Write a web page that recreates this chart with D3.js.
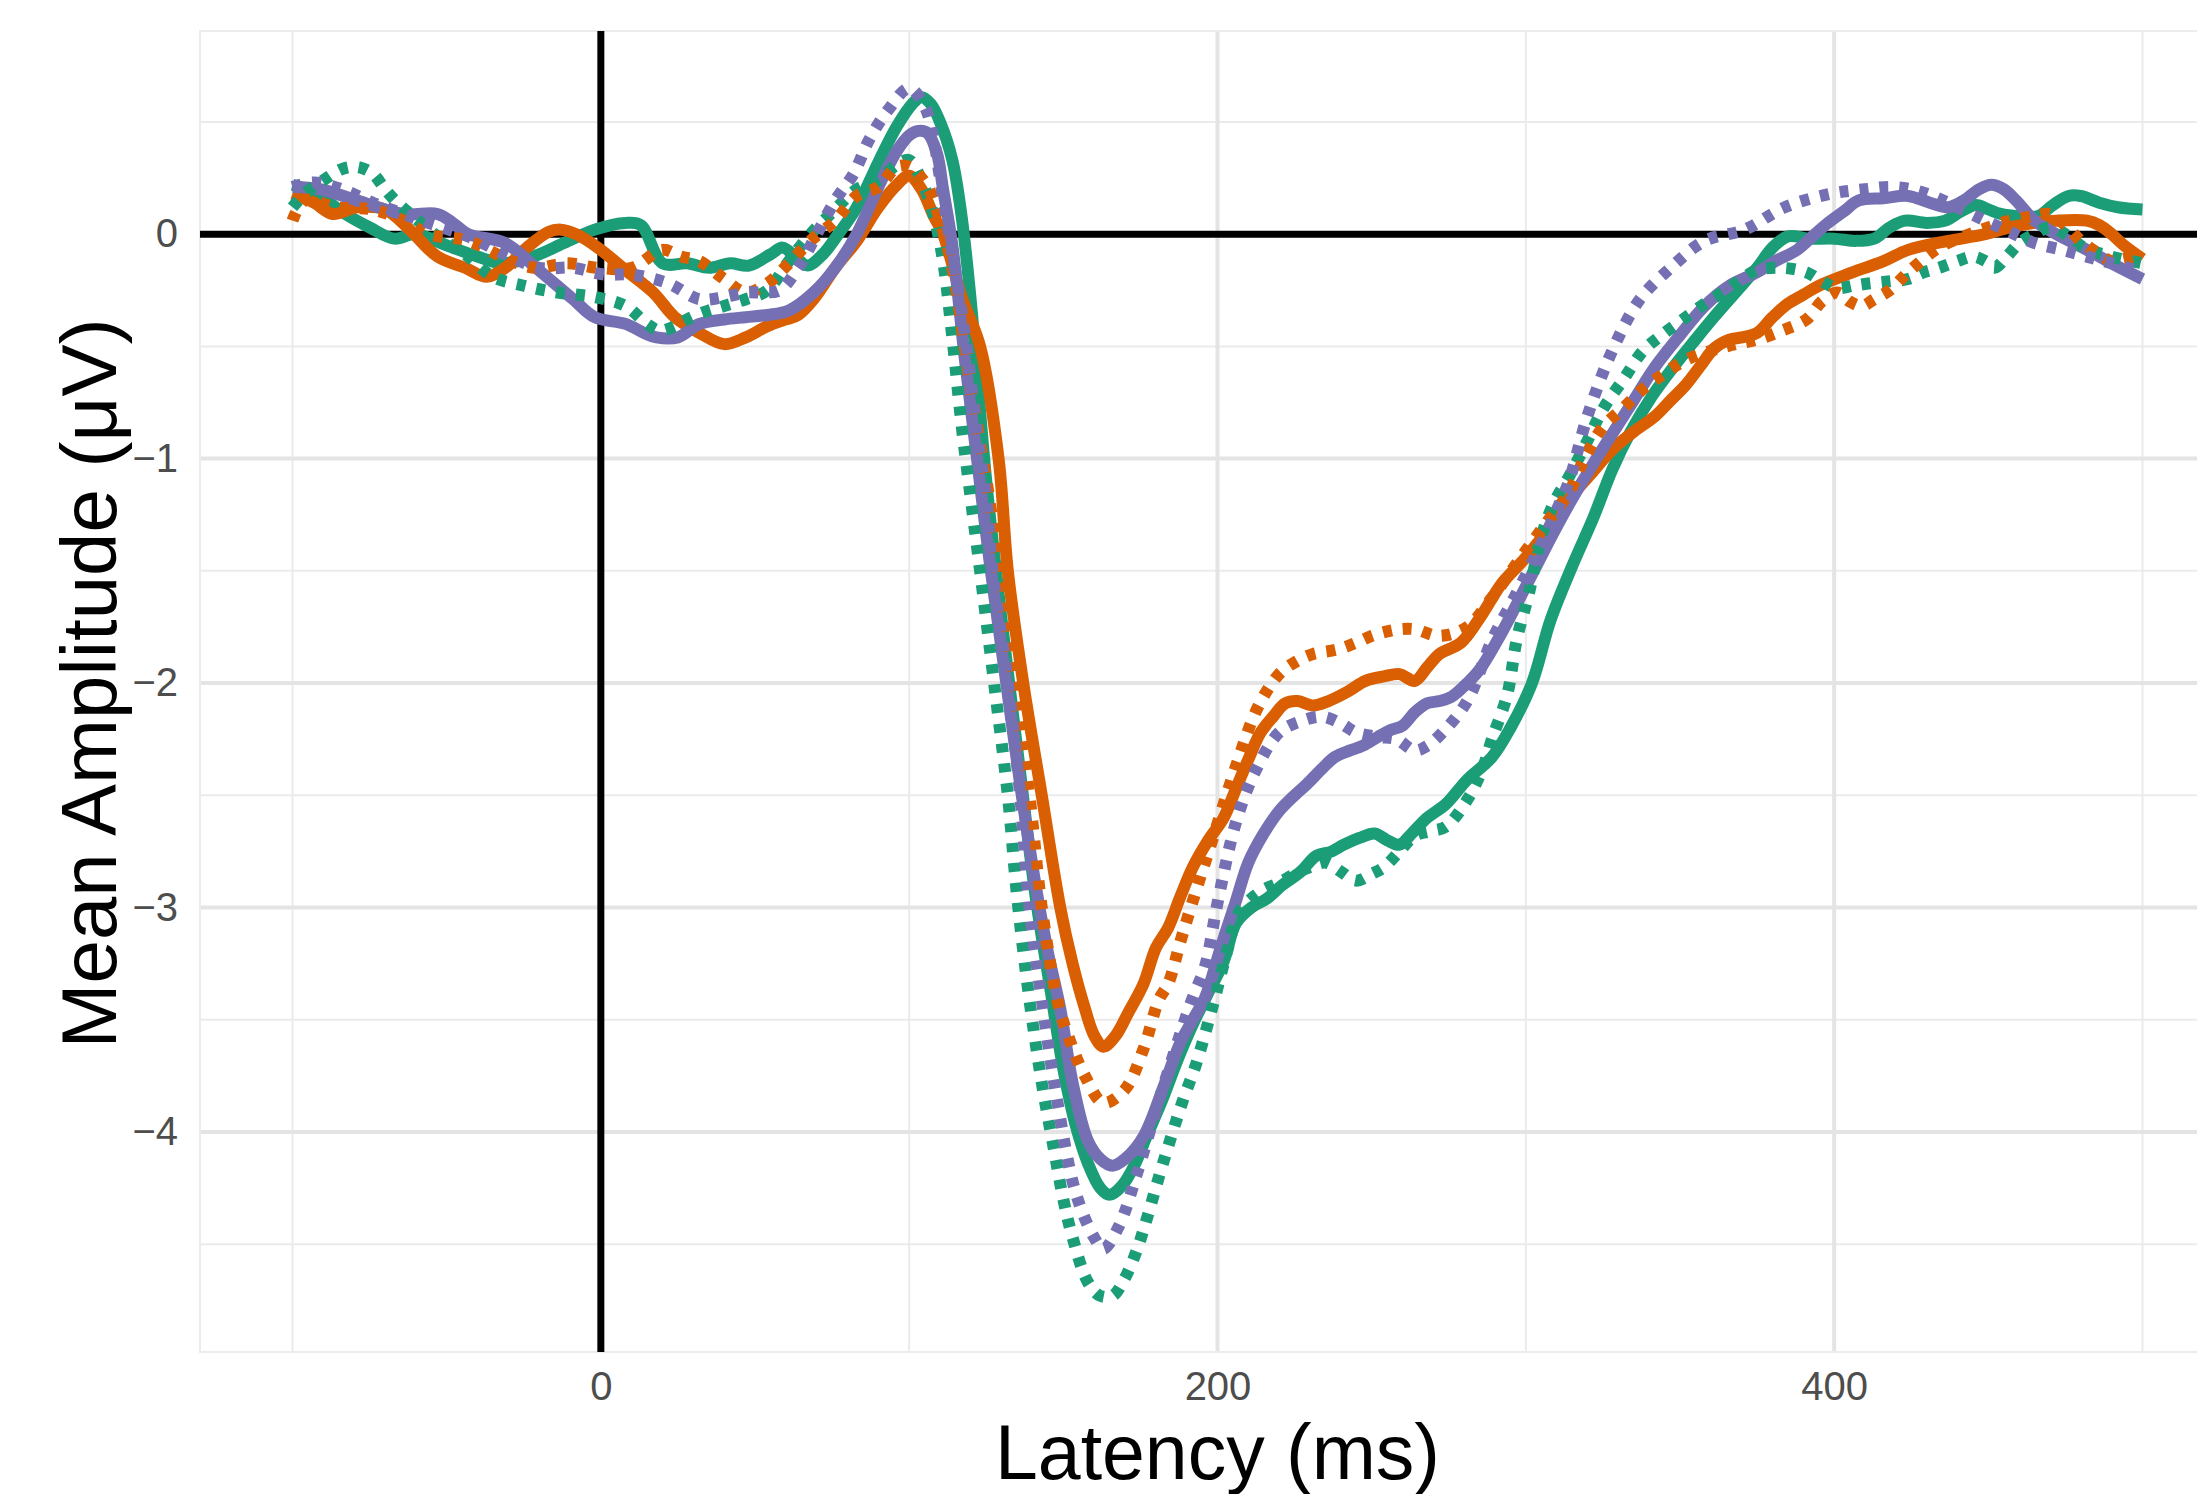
<!DOCTYPE html>
<html>
<head>
<meta charset="utf-8">
<script src="https://cdn.jsdelivr.net/npm/d3@7/dist/d3.min.js"></script>
<style>
  body { margin: 0; background: #fff; }
  svg { display: block; font-family: "Liberation Sans", Arial, sans-serif; }
</style>
</head>
<body>
<script>
// ERP waveforms, [latency ms, amplitude uV]
var greenSolid = [[-100,0.22],[-92,0.18],[-84,0.10],[-75,0.03],[-67,-0.02],[-60,0.00],[-50,-0.05],[-40,-0.10],[-32,-0.13],[-22,-0.10],[-12,-0.04],[-2,0.02],[8,0.05],[13,0.04],[20,-0.13],[28,-0.13],[35,-0.15],[42,-0.13],[48,-0.14],[55,-0.09],[59,-0.06],[63,-0.10],[67,-0.14],[72,-0.09],[77,0.00],[83,0.12],[90,0.32],[96,0.48],[101,0.58],[104,0.61],[107,0.58],[110,0.50],[114,0.33],[117,0.08],[120,-0.30],[125,-1.10],[130,-1.72],[136,-2.40],[141,-2.95],[146,-3.38],[150,-3.72],[154,-3.97],[158,-4.14],[162,-4.25],[165,-4.28],[169,-4.24],[173,-4.15],[177,-4.02],[182,-3.86],[187,-3.68],[192,-3.52],[197,-3.38],[202,-3.24],[206,-3.07],[211,-3.00],[216,-2.96],[221,-2.90],[227,-2.84],[232,-2.77],[237,-2.75],[241,-2.72],[246,-2.69],[251,-2.67],[255,-2.70],[259,-2.72],[263,-2.67],[268,-2.60],[274,-2.54],[281,-2.43],[289,-2.33],[295,-2.20],[302,-2.00],[308,-1.72],[315,-1.48],[322,-1.26],[328,-1.05],[334,-0.88],[341,-0.72],[348,-0.59],[355,-0.47],[361,-0.37],[368,-0.26],[375,-0.15],[380,-0.06],[385,-0.01],[392,-0.02],[400,-0.02],[407,-0.03],[413,-0.02],[418,0.03],[423,0.06],[430,0.05],[436,0.06],[441,0.10],[446,0.13],[450,0.11],[454,0.09],[460,0.08],[466,0.08],[471,0.13],[476,0.17],[480,0.17],[486,0.14],[492,0.12],[500,0.11]];

var greenDotted = [[-100,0.12],[-96,0.18],[-90,0.24],[-84,0.29],[-79,0.30],[-74,0.27],[-70,0.20],[-66,0.14],[-61,0.08],[-53,-0.01],[-44,-0.09],[-35,-0.19],[-25,-0.23],[-14,-0.26],[-2,-0.28],[8,-0.32],[15,-0.40],[19,-0.43],[24,-0.41],[28,-0.38],[33,-0.35],[40,-0.32],[47,-0.29],[54,-0.25],[61,-0.12],[68,0.00],[76,0.11],[83,0.20],[90,0.24],[96,0.31],[100,0.33],[104,0.24],[108,0.08],[111,-0.12],[114,-0.46],[117,-0.85],[120,-1.18],[123,-1.50],[128,-2.05],[132,-2.50],[135,-2.95],[139,-3.41],[143,-3.78],[147,-4.08],[150,-4.30],[153,-4.47],[158,-4.67],[162,-4.73],[166,-4.73],[170,-4.65],[174,-4.52],[177,-4.39],[181,-4.20],[185,-4.02],[189,-3.85],[193,-3.70],[199,-3.41],[203,-3.20],[207,-3.02],[211,-2.96],[215,-2.92],[220,-2.89],[225,-2.85],[230,-2.82],[235,-2.80],[240,-2.84],[245,-2.88],[250,-2.85],[254,-2.82],[259,-2.75],[264,-2.68],[269,-2.66],[274,-2.64],[281,-2.52],[286,-2.38],[289,-2.25],[294,-2.05],[297,-1.81],[301,-1.60],[305,-1.35],[309,-1.20],[314,-1.08],[320,-0.92],[325,-0.78],[332,-0.64],[338,-0.52],[345,-0.44],[352,-0.37],[358,-0.31],[365,-0.25],[370,-0.20],[375,-0.16],[383,-0.15],[391,-0.17],[396,-0.21],[401,-0.24],[406,-0.23],[411,-0.22],[418,-0.21],[424,-0.20],[429,-0.17],[434,-0.15],[440,-0.12],[445,-0.10],[449,-0.12],[452,-0.15],[456,-0.10],[460,-0.04],[465,0.00],[470,0.03],[475,0.00],[481,-0.06],[490,-0.10],[500,-0.13]];

var orangeSolid = [[-100,0.18],[-93,0.14],[-87,0.09],[-79,0.12],[-70,0.11],[-62,0.02],[-53,-0.10],[-44,-0.15],[-37,-0.19],[-31,-0.15],[-24,-0.06],[-17,0.01],[-13,0.02],[-8,0.00],[-1,-0.06],[8,-0.16],[17,-0.26],[24,-0.37],[32,-0.44],[40,-0.49],[47,-0.46],[54,-0.41],[60,-0.38],[64,-0.36],[69,-0.29],[76,-0.15],[83,-0.03],[90,0.12],[96,0.22],[100,0.26],[104,0.20],[108,0.08],[111,0.00],[117,-0.28],[123,-0.50],[129,-1.00],[132,-1.50],[137,-2.00],[143,-2.50],[149,-3.00],[153,-3.25],[157,-3.45],[160,-3.57],[163,-3.62],[167,-3.57],[171,-3.47],[176,-3.34],[180,-3.18],[184,-3.09],[188,-2.95],[192,-2.82],[197,-2.70],[202,-2.60],[206,-2.47],[210,-2.34],[214,-2.22],[218,-2.15],[222,-2.09],[226,-2.08],[231,-2.10],[236,-2.08],[242,-2.04],[248,-1.99],[254,-1.97],[259,-1.96],[264,-1.99],[268,-1.93],[272,-1.87],[279,-1.82],[286,-1.69],[292,-1.56],[300,-1.44],[308,-1.30],[314,-1.18],[321,-1.07],[328,-0.96],[335,-0.88],[342,-0.81],[347,-0.74],[352,-0.67],[357,-0.58],[361,-0.51],[366,-0.47],[370,-0.46],[375,-0.44],[380,-0.37],[385,-0.31],[390,-0.27],[395,-0.23],[404,-0.18],[416,-0.12],[424,-0.07],[437,-0.03],[449,0.00],[457,0.03],[465,0.05],[472,0.06],[482,0.06],[486,0.04],[490,0.00],[494,-0.05],[500,-0.11]];

var orangeDotted = [[-100,0.06],[-96,0.15],[-86,0.12],[-74,0.11],[-64,0.06],[-56,0.00],[-43,-0.03],[-29,-0.12],[-21,-0.15],[-11,-0.13],[-1,-0.15],[10,-0.15],[20,-0.07],[26,-0.10],[32,-0.12],[40,-0.20],[47,-0.26],[54,-0.22],[61,-0.13],[68,-0.03],[76,0.06],[83,0.17],[90,0.21],[96,0.30],[100,0.30],[106,0.21],[110,0.06],[114,-0.15],[118,-0.50],[122,-0.85],[126,-1.18],[129,-1.50],[134,-2.00],[139,-2.50],[143,-3.00],[148,-3.41],[151,-3.55],[157,-3.75],[163,-3.87],[170,-3.81],[176,-3.63],[181,-3.41],[184,-3.34],[188,-3.15],[192,-2.97],[199,-2.67],[206,-2.37],[213,-2.11],[220,-1.96],[226,-1.90],[231,-1.87],[239,-1.85],[245,-1.82],[250,-1.79],[255,-1.77],[259,-1.76],[264,-1.76],[272,-1.79],[281,-1.75],[289,-1.62],[300,-1.41],[307,-1.28],[314,-1.15],[319,-1.00],[325,-0.86],[332,-0.77],[338,-0.69],[345,-0.62],[352,-0.56],[360,-0.52],[368,-0.49],[375,-0.47],[383,-0.43],[391,-0.38],[396,-0.30],[401,-0.26],[405,-0.30],[409,-0.32],[413,-0.29],[418,-0.25],[424,-0.17],[434,-0.06],[446,0.01],[457,0.06],[465,0.08],[470,0.09],[475,0.04],[480,-0.03],[485,-0.08],[490,-0.12],[494,-0.11],[500,-0.09]];

var purpleSolid = [[-100,0.21],[-91,0.20],[-79,0.15],[-64,0.09],[-53,0.09],[-48,0.05],[-43,0.00],[-31,-0.04],[-21,-0.15],[-9,-0.29],[-2,-0.37],[8,-0.40],[14,-0.44],[18,-0.46],[25,-0.46],[32,-0.40],[40,-0.38],[47,-0.37],[54,-0.36],[61,-0.34],[69,-0.26],[76,-0.15],[83,0.00],[90,0.21],[96,0.37],[100,0.44],[103,0.46],[106,0.45],[109,0.36],[111,0.20],[114,-0.05],[118,-0.55],[122,-1.00],[126,-1.45],[131,-1.95],[136,-2.45],[141,-2.90],[145,-3.20],[149,-3.45],[153,-3.78],[158,-4.04],[162,-4.12],[166,-4.15],[170,-4.12],[176,-4.02],[183,-3.78],[188,-3.60],[192,-3.50],[196,-3.40],[201,-3.18],[206,-2.97],[210,-2.80],[215,-2.67],[220,-2.57],[225,-2.50],[229,-2.45],[234,-2.38],[238,-2.33],[243,-2.30],[247,-2.28],[252,-2.24],[256,-2.21],[260,-2.19],[264,-2.13],[268,-2.09],[272,-2.08],[276,-2.06],[281,-2.00],[285,-1.94],[292,-1.78],[300,-1.57],[309,-1.33],[315,-1.18],[322,-1.02],[328,-0.89],[335,-0.74],[342,-0.59],[350,-0.45],[358,-0.32],[366,-0.23],[375,-0.17],[381,-0.12],[388,-0.07],[393,-0.01],[398,0.05],[403,0.10],[408,0.15],[416,0.16],[424,0.17],[431,0.14],[437,0.12],[442,0.15],[447,0.20],[451,0.22],[455,0.20],[459,0.15],[465,0.06],[472,0.00],[482,-0.07],[490,-0.13],[500,-0.20]];

var purpleDotted = [[-100,0.21],[-93,0.23],[-84,0.20],[-74,0.14],[-64,0.09],[-56,0.05],[-43,-0.01],[-31,-0.09],[-20,-0.15],[-9,-0.15],[1,-0.18],[10,-0.18],[22,-0.22],[32,-0.29],[40,-0.28],[47,-0.26],[53,-0.26],[58,-0.25],[64,-0.15],[70,0.00],[76,0.15],[82,0.27],[87,0.42],[93,0.55],[100,0.65],[105,0.57],[108,0.42],[110,0.25],[113,0.00],[118,-0.44],[122,-0.89],[125,-1.18],[127,-1.50],[132,-2.00],[136,-2.50],[139,-3.00],[143,-3.41],[148,-3.86],[154,-4.27],[160,-4.47],[163,-4.52],[168,-4.42],[174,-4.18],[181,-3.86],[188,-3.56],[192,-3.40],[196,-3.26],[200,-2.98],[206,-2.62],[212,-2.40],[220,-2.22],[227,-2.17],[234,-2.15],[240,-2.18],[245,-2.22],[252,-2.24],[258,-2.25],[264,-2.30],[268,-2.28],[273,-2.22],[281,-2.08],[289,-1.81],[297,-1.60],[304,-1.41],[310,-1.23],[314,-1.10],[320,-0.81],[328,-0.52],[337,-0.29],[347,-0.15],[358,-0.03],[371,0.02],[384,0.12],[399,0.18],[410,0.20],[418,0.21],[425,0.20],[432,0.17],[440,0.12],[449,0.06],[457,0.01],[465,-0.04],[474,-0.07],[482,-0.10],[490,-0.13],[500,-0.17]];

var lineColors = ["#1B9E77", "#D95F02", "#7570B3"];
var xTicks = [0, 200, 400];
var xMinor = [-100, 100, 300, 500];
var yTicks = [0, -1, -2, -3, -4];
var yMinor = [0.5, -0.5, -1.5, -2.5, -3.5, -4.5];
var xTitle = "Latency (ms)";
var yTitle = "Mean Amplitude (\u03bcV)";

var width = 2197, height = 1494;
var panel = {left: 200, right: 2235, top: 31, bottom: 1352};

var svg = d3.select("body").append("svg")
  .attr("width", width)
  .attr("height", height);

var x = d3.scaleLinear().domain([-130, 530]).range([panel.left, panel.right]);
var y = d3.scaleLinear().domain([-4.98, 0.905]).range([panel.bottom, panel.top]);

// grid
var grid = svg.append("g");
grid.selectAll(".vminor").data(xMinor).enter().append("line")
  .attr("x1", x).attr("x2", x)
  .attr("y1", panel.top).attr("y2", panel.bottom)
  .attr("stroke", "#ebebeb").attr("stroke-width", 2);
grid.selectAll(".hminor").data(yMinor).enter().append("line")
  .attr("x1", panel.left).attr("x2", panel.right)
  .attr("y1", y).attr("y2", y)
  .attr("stroke", "#ebebeb").attr("stroke-width", 2);
grid.selectAll(".vmajor").data(xTicks).enter().append("line")
  .attr("x1", x).attr("x2", x)
  .attr("y1", panel.top).attr("y2", panel.bottom)
  .attr("stroke", "#e4e4e4").attr("stroke-width", 4);
grid.selectAll(".hmajor").data(yTicks).enter().append("line")
  .attr("x1", panel.left).attr("x2", panel.right)
  .attr("y1", y).attr("y2", y)
  .attr("stroke", "#e4e4e4").attr("stroke-width", 4);
grid.append("rect")
  .attr("x", panel.left).attr("y", panel.top)
  .attr("width", panel.right - panel.left).attr("height", panel.bottom - panel.top)
  .attr("fill", "none").attr("stroke", "#ececec").attr("stroke-width", 2);

// zero reference lines
svg.append("line")
  .attr("x1", panel.left).attr("x2", panel.right)
  .attr("y1", y(0)).attr("y2", y(0))
  .attr("stroke", "#000").attr("stroke-width", 7);
svg.append("line")
  .attr("x1", x(0)).attr("x2", x(0))
  .attr("y1", panel.top).attr("y2", panel.bottom)
  .attr("stroke", "#000").attr("stroke-width", 7);

// axes (labels only)
var yAxis = d3.axisLeft(y).tickValues(yTicks).tickSize(0).tickPadding(22)
  .tickFormat(function(d) { return d < 0 ? "\u2212" + Math.abs(d) : d; });
var xAxis = d3.axisBottom(x).tickValues(xTicks).tickSize(0).tickPadding(20);

var gy = svg.append("g").attr("transform", "translate(" + panel.left + ",0)").call(yAxis);
var gx = svg.append("g").attr("transform", "translate(0," + panel.bottom + ")").call(xAxis);
[gx, gy].forEach(function(g) {
  g.select(".domain").remove();
  g.selectAll("text")
    .attr("fill", "#4d4d4d")
    .style("font-size", "40px")
    .style("font-family", "'Liberation Sans', Arial, sans-serif");
});

// waveforms
var line = d3.line()
  .x(function(d) { return x(d[0]); })
  .y(function(d) { return y(d[1]); })
  .curve(d3.curveCatmullRom.alpha(0.5));

var solids = [greenSolid, orangeSolid, purpleSolid];
var dotteds = [greenDotted, orangeDotted, purpleDotted];

for (var i = 0; i < solids.length; i++) {
  svg.append("path")
    .attr("d", line(solids[i]))
    .attr("fill", "none")
    .attr("stroke", lineColors[i])
    .attr("stroke-width", 12)
    .attr("stroke-linejoin", "round")
    .attr("stroke-linecap", "butt");
}
for (var j = 0; j < dotteds.length; j++) {
  svg.append("path")
    .attr("d", line(dotteds[j]))
    .attr("fill", "none")
    .attr("stroke", lineColors[j])
    .attr("stroke-width", 12)
    .attr("stroke-dasharray", "9,11")
    .attr("stroke-linecap", "butt");
}

// titles
svg.append("text")
  .attr("x", x(200)).attr("y", 1479)
  .attr("text-anchor", "middle")
  .style("font-size", "77px")
  .attr("fill", "#000")
  .text(xTitle);
svg.append("text")
  .attr("transform", "translate(116," + ((panel.top + panel.bottom) / 2 - 8) + ") rotate(-90)")
  .attr("text-anchor", "middle")
  .style("font-size", "78px")
  .attr("fill", "#000")
  .text(yTitle);
</script>
</body>
</html>
